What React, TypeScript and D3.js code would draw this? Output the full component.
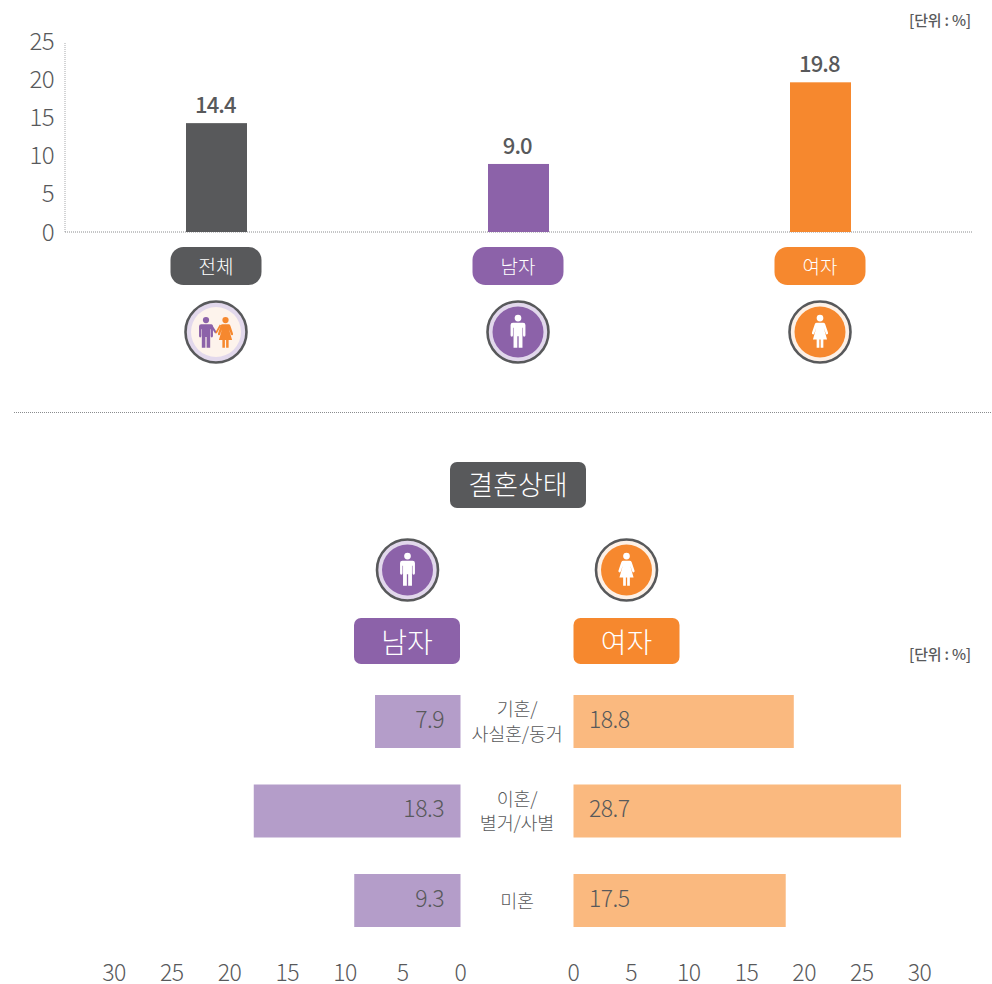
import React from "react";
import * as d3 from "d3";

const overallCategories = ["전체", "남자", "여자"];
const overallValues = [14.4, 9.0, 19.8];
const overallTicks = [0, 5, 10, 15, 20, 25];
const overallColors = ["#58595b", "#8c62a9", "#f6882e"];

const maritalLines = [["기혼/", "사실혼/동거"], ["이혼/", "별거/사별"], ["미혼"]];
const maleLabels = ["7.9", "18.3", "9.3"];
const femaleLabels = ["18.8", "28.7", "17.5"];
// Bar lengths as drawn in the picture, which differ slightly from the printed labels.
const maleDrawn = [7.4, 17.9, 9.2];
const femaleDrawn = [19.1, 28.4, 18.4];
const pyramidTicks = [0, 5, 10, 15, 20, 25, 30];

const FONT = "'Noto Sans CJK KR', 'Noto Sans', sans-serif";
const TXT = "#58595b";
const PURPLE = "#8c62a9";
const ORANGE = "#f6882e";

const Man = ({ color }: { color: string }) => (
  <g fill={color}>
    <circle cx={0} cy={-15.5} r={3.6} />
    <path d="M-5.5,-10.5 H5.5 Q8,-10.5 8,-8 V3 Q8,4.5 6.6,4.5 Q5.4,4.5 5.4,3 V-5 H4.8 V16.5 H0.7 V4 H-0.7 V16.5 H-4.8 V-5 H-5.4 V3 Q-5.4,4.5 -6.6,4.5 Q-8,4.5 -8,3 V-8 Q-8,-10.5 -5.5,-10.5 Z" />
  </g>
);

const Woman = ({ color }: { color: string }) => (
  <g fill={color}>
    <circle cx={0} cy={-15.5} r={3.6} />
    <path d="M-3.5,-10.5 H3.5 Q5,-10.5 5.6,-9 L8.6,0 Q9,1.6 7.8,2 Q6.6,2.3 6.2,1 L4,-5 L7.6,7.5 H3.6 V16.5 H0.7 V7.5 H-0.7 V16.5 H-3.6 V7.5 H-7.6 L-4,-5 L-6.2,1 Q-6.6,2.3 -7.8,2 Q-9,1.6 -8.6,0 L-5.6,-9 Q-5,-10.5 -3.5,-10.5 Z" />
  </g>
);

const Badge = ({ cx, cy, kind }: { cx: number; cy: number; kind: "all" | "m" | "f" }) => {
  const ring = kind === "f" ? "#fdf1e7" : "#e2d8ec";
  const inner = kind === "all" ? "#fdf3ec" : kind === "m" ? PURPLE : ORANGE;
  return (
    <g transform={`translate(${cx},${cy})`}>
      <circle r={30.5} fill={ring} stroke="#58595b" strokeWidth={2.6} />
      <circle r={kind === "all" ? 25 : 25.5} fill={inner} />
      {kind === "all" && (
        <>
          <g transform="translate(-10,1.5) scale(0.87)"><Man color={PURPLE} /></g>
          <g transform="translate(9.5,1.5) scale(0.87)"><Woman color={ORANGE} /></g>
          <path d="M-5,-7 L0,1" stroke={PURPLE} strokeWidth={2} fill="none" />
          <path d="M0,1 L4.5,-7" stroke={ORANGE} strokeWidth={1.6} fill="none" />
        </>
      )}
      {kind === "m" && <g transform="translate(0,0.5) scale(0.93)"><Man color="#fff" /></g>}
      {kind === "f" && <g transform="translate(0,0.5) scale(0.93)"><Woman color="#fff" /></g>}
    </g>
  );
};

const Pill = ({ x, y, w, h, r, fill, label, size, shift }: any) => (
  <g>
    <rect x={x} y={y} width={w} height={h} rx={r} fill={fill} />
    <text x={x + w / 2} y={y + h / 2 + shift} dy="0.35em" textAnchor="middle" fill="#fff" fontSize={size} fontWeight={300}>{label}</text>
  </g>
);

export default function App() {
  const yTop = d3.scaleLinear().domain([0, 25]).range([232, 43]);
  const yTickLabel = d3.scaleLinear().domain([0, 25]).range([232, 41]);
  const xTop = d3.scalePoint<string>().domain(overallCategories).range([216.5, 820.5]);
  const kinds: ("all" | "m" | "f")[] = ["all", "m", "f"];

  const rowY = d3.scalePoint<number>().domain([0, 1, 2]).range([721.5, 900.5]);
  const xLeft = d3.scaleLinear().domain([0, 30]).range([460.5, 114]);
  const xRight = d3.scaleLinear().domain([0, 30]).range([573.5, 919.5]);
  const barH = 53;

  return (
    <svg width={992} height={984} viewBox="0 0 992 984" fontFamily={FONT}
      style={{ position: "absolute", left: 0, top: 0, display: "block" }}>
      <text x={971} y={26} textAnchor="end" fontSize={15} fontWeight={500} letterSpacing={-0.2} fill={TXT}>[단위 : %]</text>

      <line x1={65} x2={65} y1={yTop(25)} y2={yTop(0)} stroke="#a7a9ac" strokeWidth={1} strokeDasharray="1 1" />
      <line x1={65} x2={973} y1={yTop(0)} y2={yTop(0)} stroke="#8a8c8e" strokeWidth={1} strokeDasharray="1 1" />
      {overallTicks.map((t) => (
        <text key={t} x={54} y={yTickLabel(t)} dy="0.36em" textAnchor="end" fontSize={24} fontWeight={300} letterSpacing={-0.6} fill={TXT}>{t}</text>
      ))}

      {overallCategories.map((c, i) => {
        const cx = xTop(c)!;
        return (
          <g key={c}>
            <rect x={cx - 30.5} y={yTop(overallValues[i])} width={61} height={yTop(0) - yTop(overallValues[i])} fill={overallColors[i]} />
            <text x={cx - 1.2} y={yTop(overallValues[i]) - 10} textAnchor="middle" fontSize={22} fontWeight={500} letterSpacing={-0.9} fill={TXT}>{overallValues[i].toFixed(1)}</text>
            <Pill x={cx - 46} y={247} w={91} h={38} r={13} fill={overallColors[i]} label={c} size={19} shift={1} />
            <Badge cx={cx - 0.5} cy={332} kind={kinds[i]} />
          </g>
        );
      })}

      <line x1={14} x2={992} y1={412.5} y2={412.5} stroke="#8a8c8e" strokeWidth={1} strokeDasharray="1 1" />

      <Pill x={450} y={462} w={136} h={46} r={7} fill="#58595b" label="결혼상태" size={27} shift={1} />
      <Badge cx={407.5} cy={570} kind="m" />
      <Badge cx={626.5} cy={570} kind="f" />
      <Pill x={354} y={618} w={106} h={46} r={7} fill={PURPLE} label="남자" size={28} shift={2} />
      <Pill x={573.5} y={618} w={106} h={46} r={7} fill={ORANGE} label="여자" size={28} shift={2} />
      <text x={971} y={660} textAnchor="end" fontSize={15} fontWeight={500} letterSpacing={-0.2} fill={TXT}>[단위 : %]</text>

      {maritalLines.map((lines, i) => {
        const cy = rowY(i)!;
        return (
          <g key={i}>
            <rect x={xLeft(maleDrawn[i])} y={cy - barH / 2} width={xLeft(0) - xLeft(maleDrawn[i])} height={barH} fill="#b49dc9" />
            <rect x={xRight(0)} y={cy - barH / 2} width={xRight(femaleDrawn[i]) - xRight(0)} height={barH} fill="#fab97f" />
            <text x={444} y={cy - 2} dy="0.36em" textAnchor="end" fontSize={23} fontWeight={300} letterSpacing={-0.5} fill={TXT}>{maleLabels[i]}</text>
            <text x={589} y={cy - 2} dy="0.36em" textAnchor="start" fontSize={23} fontWeight={300} letterSpacing={-0.5} fill={TXT}>{femaleLabels[i]}</text>
            {lines.map((l, j) => (
              <text key={j} x={517} y={cy + 0.5 + (j - (lines.length - 1) / 2) * 24.5} dy="0.36em" textAnchor="middle" fontSize={18.5} fontWeight={300} letterSpacing={-0.2} fill={TXT}>{l}</text>
            ))}
          </g>
        );
      })}

      {pyramidTicks.map((t) => (
        <g key={t}>
          <text x={xLeft(t)} y={981} textAnchor="middle" fontSize={23} fontWeight={300} letterSpacing={-0.5} fill={TXT}>{t}</text>
          <text x={xRight(t)} y={981} textAnchor="middle" fontSize={23} fontWeight={300} letterSpacing={-0.5} fill={TXT}>{t}</text>
        </g>
      ))}
    </svg>
  );
}
